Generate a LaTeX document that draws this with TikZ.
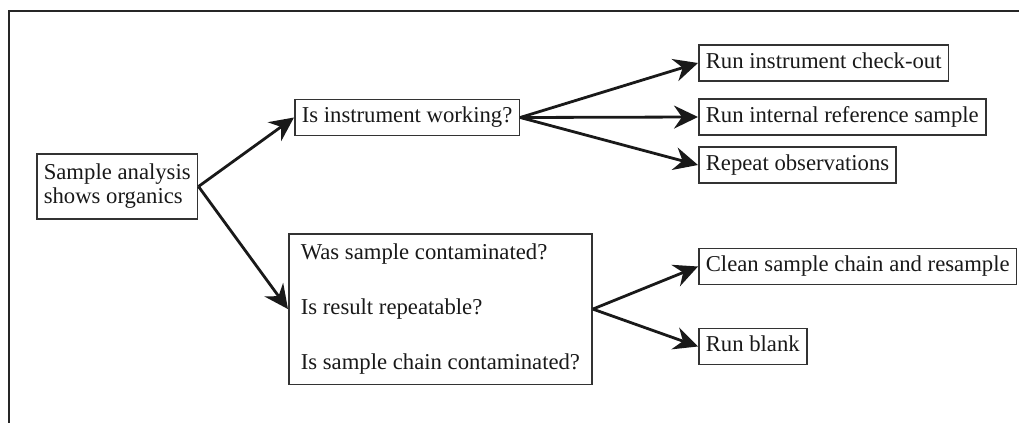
\documentclass[tikz,border=0pt]{standalone}
\usepackage{fontspec}
\setmainfont{Liberation Serif}
\usepackage{tikz}
\usetikzlibrary{positioning}
\usetikzlibrary{arrows.meta}

\tikzset{
  box/.style={draw=black!80, line width=0.8pt, text=black!90, inner xsep=3.5pt, font=\fontsize{11.35}{12}\selectfont},
  onebox/.style={box, text height=7.75pt, text depth=2.5pt, inner ysep=3.9pt},
  arr/.style={->, black!90, line width=1.4pt},
  >={Stealth[length=12pt,width=11.5pt,inset=4pt]}
}

\begin{document}
\begin{tikzpicture}[x=0.5pt,y=-0.5pt]

\useasboundingbox (0,0) rectangle (1019,423);

\draw[black!85, line width=1.4pt] (9,423)--(9,11)--(1019,11);

\node[box, align=left, anchor=west, inner ysep=5pt] (sample) at (36,186.5) {Sample analysis\\shows organics};

\node[onebox, anchor=west] (working) at (294,117.5) {Is instrument working?};

\node[onebox, anchor=west] (checkout) at (698,63) {Run instrument check-out};
\node[onebox, anchor=west] (intref) at (698,117) {Run internal reference sample};
\node[onebox, anchor=west] (repeatobs) at (698,165) {Repeat observations};

\node[box, align=left, anchor=north west, inner xsep=6pt, inner ysep=5pt, font=\fontsize{11.35}{27.5}\selectfont] (contam) at (288,233) {Was sample contaminated?\\Is result repeatable?\\Is sample chain contaminated?};

\node[onebox, anchor=west] (clean) at (698,266.5) {Clean sample chain and resample};
\node[onebox, anchor=west] (blank) at (698,346.5) {Run blank};

\draw[arr] (sample.east) -- (working.west);
\draw[arr] (sample.east) -- (contam.west);

\draw[arr] (working.east) -- (checkout.west);
\draw[arr] (working.east) -- (intref.west);
\draw[arr] (working.east) -- (repeatobs.west);

\draw[arr] (contam.east) -- (clean.west);
\draw[arr] (contam.east) -- (blank.west);

\end{tikzpicture}
\end{document}
